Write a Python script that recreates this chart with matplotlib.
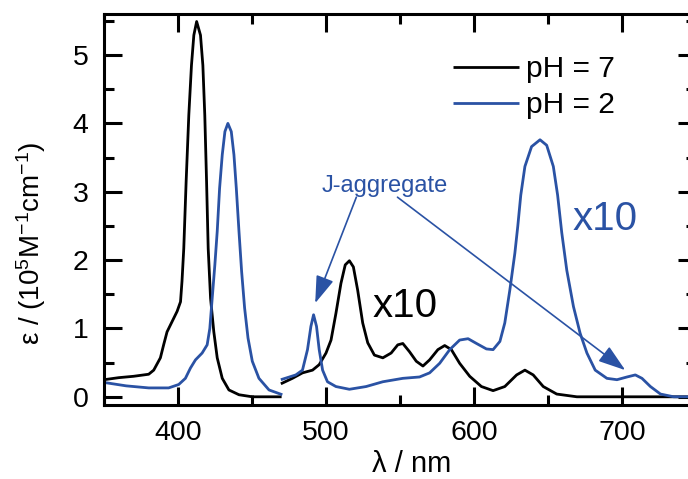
import matplotlib
matplotlib.use("Agg")
import matplotlib.pyplot as plt
from matplotlib.ticker import MultipleLocator

plt.rcParams['font.family'] = ['Liberation Sans', 'DejaVu Sans']
plt.rcParams['mathtext.default'] = 'regular'

BLUE = '#2a52a4'

# pH = 7, Soret region (true scale)
x7a = [350, 360, 370, 380.2, 383.6, 388.1, 390.3, 392.6, 396, 399.4, 401.7, 402.7, 403.9,
       405.5, 407.3, 409.1, 410.7, 412.6, 415.2, 416.8, 418.1, 419.3, 420.4, 422, 424.2,
       426.5, 429.9, 434.4, 441.2, 450.2, 470]
y7a = [0.25, 0.28, 0.30, 0.33, 0.39, 0.57, 0.76, 0.95, 1.10, 1.25, 1.39, 1.69, 2.17,
       3.15, 4.12, 4.85, 5.29, 5.49, 5.29, 4.85, 4.12, 3.15, 2.17, 1.44, 0.95,
       0.57, 0.27, 0.10, 0.03, 0.0, 0.0]

# pH = 7, Q-band region (x10)
x7b = [469.5, 477.3, 484.1, 490.9, 495.4, 500, 503.4, 506.7, 510.1, 513, 515.8, 518.5,
       521.4, 524.8, 528.2, 532.7, 538.4, 544, 548.5, 551.9, 556.4, 561, 565.5, 570,
       575.6, 580.2, 584.7, 590.3, 597.1, 605, 612.9, 620.8, 628.8, 634.4, 640, 646.8,
       655.9, 669.5, 700, 750]
y7b = [0.19, 0.27, 0.35, 0.39, 0.47, 0.64, 0.83, 1.22, 1.66, 1.93, 1.99, 1.90,
       1.56, 1.08, 0.79, 0.61, 0.57, 0.64, 0.76, 0.78, 0.66, 0.52, 0.45, 0.54,
       0.69, 0.75, 0.69, 0.49, 0.30, 0.15, 0.09, 0.15, 0.32, 0.39, 0.32, 0.15,
       0.04, 0.0, 0.0, 0.0]

# pH = 2, Soret region (true scale)
x2a = [350, 365, 380.2, 393.7, 400.5, 405, 408.4, 411.8, 416.3, 419.7, 421.5, 423.1, 424.9,
       426.5, 428.1, 429.9, 431.7, 433.7, 436, 437.8, 439.4, 441.2, 443, 445, 447.3,
       450.2, 454.7, 461.5, 470.5]
y2a = [0.21, 0.16, 0.13, 0.13, 0.18, 0.27, 0.42, 0.54, 0.64, 0.76, 1.00, 1.44, 1.93,
       2.42, 3.05, 3.54, 3.88, 4.00, 3.88, 3.54, 3.05, 2.42, 1.83, 1.30, 0.86,
       0.52, 0.27, 0.10, 0.03]

# pH = 2, Q-band region (x10)
x2b = [469.5, 479.6, 484.1, 487.5, 489.8, 491.6, 493.6, 495.4, 497.7, 501, 506.7, 515.8,
       527.1, 538.4, 551.9, 563.2, 570, 576.8, 583.6, 590.3, 596, 601.7, 608.4, 612.9,
       617.5, 620.8, 624.2, 627.6, 629.6, 631.6, 634.4, 638.9, 644.6, 649.1, 653.6, 656.5,
       659.3, 662.7, 667.2, 671.7, 676.3, 681.9, 689.8, 696.6, 703.4, 709, 713.5, 719.2,
       726, 735, 750]
y2b = [0.25, 0.32, 0.39, 0.69, 1.03, 1.20, 1.03, 0.69, 0.39, 0.22, 0.15, 0.11,
       0.15, 0.22, 0.27, 0.29, 0.35, 0.49, 0.69, 0.83, 0.85, 0.78, 0.70, 0.69,
       0.81, 1.08, 1.56, 2.10, 2.50, 2.95, 3.37, 3.66, 3.76, 3.68, 3.37, 2.95,
       2.40, 1.85, 1.32, 0.93, 0.64, 0.39, 0.27, 0.25, 0.29, 0.32, 0.27, 0.15,
       0.04, 0.0, 0.0]

fig = plt.figure(figsize=(6.88, 4.79), dpi=100)
ax = fig.add_axes([104/688, 74/479, 592/688, 391/479])

lw = 2.0
kw = dict(lw=lw, solid_joinstyle='round', solid_capstyle='butt')
ax.plot(x7a, y7a, color='black', label='pH = 7', **kw)
ax.plot(x2a, y2a, color=BLUE, label='pH = 2', **kw)
ax.plot(x7b, y7b, color='black', **kw)
ax.plot(x2b, y2b, color=BLUE, **kw)

ax.set_xlim(350, 750)
ax.set_ylim(-0.12, 5.6)
ax.xaxis.set_major_locator(MultipleLocator(100))
ax.xaxis.set_minor_locator(MultipleLocator(50))
ax.yaxis.set_major_locator(MultipleLocator(1))
ax.yaxis.set_minor_locator(MultipleLocator(0.5))
ax.tick_params(which='both', direction='in', top=True, right=True, width=2.2,
               labelsize=20.5)
ax.tick_params(which='major', length=13)
ax.tick_params(which='minor', length=7)
ax.tick_params(axis='x', pad=11)
ax.tick_params(axis='y', pad=11)
for s in ax.spines.values():
    s.set_linewidth(2.2)

ax.set_ylabel('ε / (10$^{5}$M$^{-1}$cm$^{-1}$)', fontsize=20)
ax.yaxis.set_label_coords(-0.095, 0.414)
ax.set_xlabel('λ / nm', fontsize=21)
ax.xaxis.set_label_coords(0.519, -0.172)
ax.xaxis.label.set_va('baseline')

leg = ax.legend(loc='upper left', bbox_to_anchor=(0.59, 0.895), frameon=False,
                fontsize=21.5, handlelength=2.2, handletextpad=0.25, labelspacing=0.28,
                borderpad=0, borderaxespad=0)

ax.text(531.4, 1.17, 'x10', fontsize=29, color='black', va='baseline')
ax.text(666.3, 2.44, 'x10', fontsize=29, color=BLUE, va='baseline')
ax.text(496.8, 3.0, 'J-aggregate', fontsize=17, color=BLUE, va='baseline')

arrow = dict(arrowstyle='-|>,head_length=0.6,head_width=0.2', color=BLUE, lw=1.2,
             mutation_scale=28, shrinkA=0, shrinkB=0)
ax.annotate('', xy=(492.7, 1.37), xytext=(520.5, 2.92), arrowprops=arrow)
ax.annotate('', xy=(702.2, 0.39), xytext=(548.3, 2.92), arrowprops=arrow)

fig.savefig('out.png', dpi=100)
